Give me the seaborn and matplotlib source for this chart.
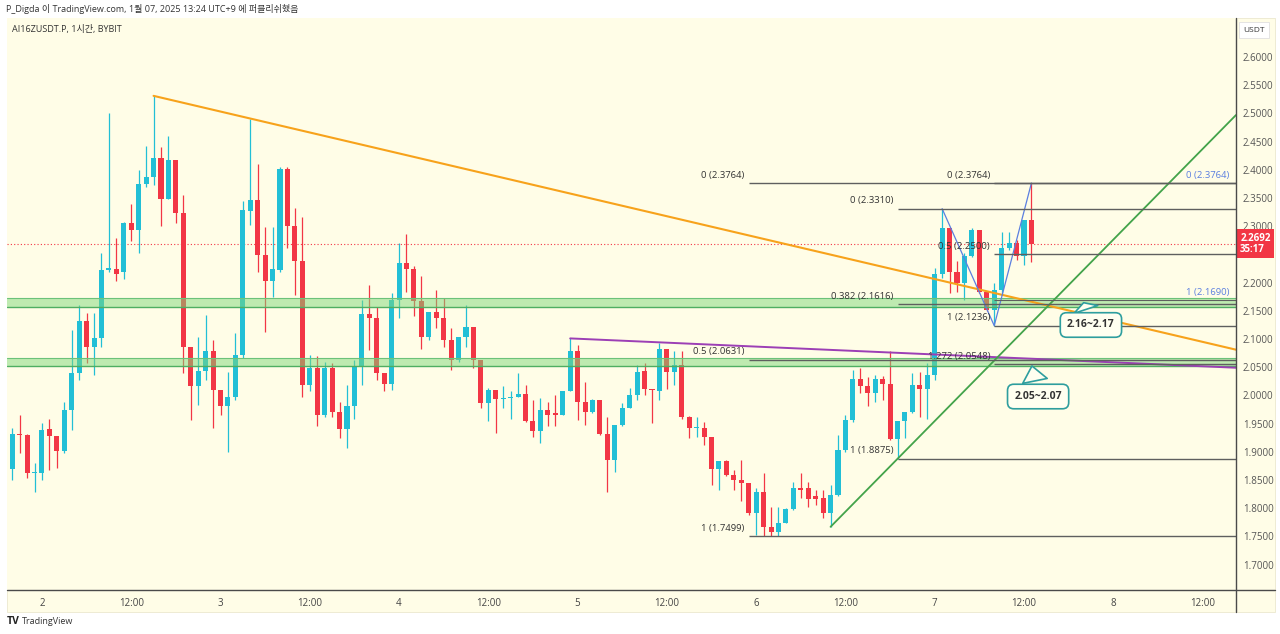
import numpy as np
import pandas as pd
import matplotlib.pyplot as plt
import matplotlib.transforms as mtransforms
from matplotlib.lines import Line2D
from matplotlib.patches import Rectangle
import seaborn as sns

# hourly candles, hour 0 = Jan 2 00:00 (UTC+9)
hours = list(range(-5, 134))
opens = [1.924, 1.870, 1.931, 1.930, 1.862, 1.863, 1.940, 1.928, 1.902, 1.974,
         2.039, 2.131, 2.085, 2.101, 2.222, 2.224, 2.218, 2.306, 2.293, 2.375,
         2.388, 2.420, 2.349, 2.417, 2.323, 2.085, 2.017, 2.043, 2.078, 2.010,
         1.981, 1.998, 2.072, 2.327, 2.346, 2.248, 2.203, 2.222, 2.401, 2.300,
         2.239, 2.018, 2.048, 1.966, 2.048, 1.971, 1.940, 1.981, 2.050, 2.144,
         2.138, 2.040, 2.021, 2.169, 2.234, 2.224, 2.168, 2.104, 2.147, 2.137,
         2.098, 2.062, 2.104, 2.121, 2.063, 1.987, 2.010, 1.993, 1.995, 1.998,
         2.003, 1.955, 1.936, 1.974, 1.968, 1.965, 2.007, 2.078, 1.989, 1.971,
         1.991, 1.932, 1.886, 1.948, 1.978, 2.001, 2.044, 2.011, 2.008, 2.082,
         2.042, 2.054, 1.961, 1.942, 1.943, 1.927, 1.869, 1.883, 1.859, 1.850,
         1.845, 1.791, 1.828, 1.767, 1.758, 1.773, 1.798, 1.835, 1.835, 1.821,
         1.818, 1.791, 1.823, 1.903, 1.956, 2.029, 2.016, 2.005, 2.029, 2.020,
         1.922, 1.955, 1.971, 2.018, 2.011, 2.036, 2.216, 2.296, 2.219, 2.199,
         2.247, 2.293, 2.184, 2.151, 2.187, 2.261, 2.270, 2.247, 2.311]
highs = [1.927, 1.942, 1.965, 1.931, 1.880, 1.951, 1.959, 1.928, 1.989, 2.116,
         2.160, 2.146, 2.146, 2.252, 2.501, 2.279, 2.308, 2.339, 2.400, 2.442,
         2.531, 2.441, 2.459, 2.417, 2.355, 2.086, 2.104, 2.143, 2.098, 2.010,
         2.042, 2.110, 2.344, 2.490, 2.411, 2.299, 2.299, 2.404, 2.404, 2.332,
         2.317, 2.072, 2.069, 2.060, 2.057, 1.989, 2.018, 2.063, 2.169, 2.196,
         2.157, 2.040, 2.181, 2.271, 2.286, 2.229, 2.211, 2.147, 2.187, 2.172,
         2.119, 2.104, 2.160, 2.121, 2.063, 2.013, 2.010, 2.016, 2.007, 2.040,
         2.018, 1.991, 1.995, 1.989, 2.001, 2.007, 2.101, 2.089, 2.024, 1.993,
         1.991, 1.962, 1.948, 1.986, 2.013, 2.054, 2.057, 2.011, 2.092, 2.082,
         2.078, 2.078, 1.964, 1.962, 1.952, 1.927, 1.883, 1.886, 1.868, 1.886,
         1.845, 1.835, 1.863, 1.803, 1.803, 1.800, 1.847, 1.862, 1.847, 1.832,
         1.832, 1.841, 1.930, 1.965, 2.045, 2.048, 2.033, 2.036, 2.034, 2.078,
         1.955, 1.971, 2.039, 2.042, 2.057, 2.225, 2.331, 2.296, 2.239, 2.252,
         2.296, 2.293, 2.184, 2.199, 2.290, 2.290, 2.276, 2.311, 2.3764]
lows = [1.871, 1.850, 1.897, 1.853, 1.829, 1.850, 1.868, 1.871, 1.897, 1.939,
        2.027, 2.057, 2.036, 2.086, 2.219, 2.202, 2.206, 2.273, 2.253, 2.370,
        2.373, 2.301, 2.349, 2.305, 2.039, 1.956, 1.983, 2.027, 1.942, 1.965,
        1.900, 1.992, 2.066, 2.302, 2.219, 2.113, 2.175, 2.218, 2.261, 2.178,
        1.998, 2.008, 1.945, 1.962, 1.962, 1.924, 1.906, 1.959, 2.018, 2.081,
        2.027, 2.007, 2.010, 2.137, 2.184, 2.140, 2.083, 2.098, 2.119, 2.086,
        2.045, 2.060, 2.086, 2.048, 1.977, 1.955, 1.934, 1.977, 1.959, 1.998,
        1.953, 1.927, 1.915, 1.945, 1.945, 1.965, 2.007, 1.956, 1.948, 1.969,
        1.930, 1.829, 1.865, 1.945, 1.977, 1.992, 2.001, 1.951, 1.992, 2.011,
        2.018, 1.958, 1.924, 1.927, 1.912, 1.841, 1.832, 1.857, 1.832, 1.812,
        1.788, 1.753, 1.750, 1.750, 1.751, 1.773, 1.797, 1.818, 1.803, 1.806,
        1.782, 1.767, 1.821, 1.900, 1.953, 2.004, 1.981, 1.989, 1.992, 1.921,
        1.8875, 1.924, 1.968, 1.962, 1.959, 2.027, 2.208, 2.181, 2.184, 2.169,
        2.246, 2.181, 2.149, 2.1236, 2.181, 2.258, 2.240, 2.231, 2.237]
closes = [1.874, 1.931, 1.929, 1.862, 1.864, 1.939, 1.928, 1.902, 1.974, 2.039,
          2.131, 2.085, 2.101, 2.222, 2.225, 2.216, 2.306, 2.293, 2.375, 2.388,
          2.420, 2.349, 2.417, 2.323, 2.085, 2.017, 2.043, 2.078, 2.010, 1.981,
          1.998, 2.072, 2.329, 2.346, 2.248, 2.203, 2.224, 2.401, 2.300, 2.239,
          2.018, 2.048, 1.966, 2.048, 1.971, 1.940, 1.981, 2.050, 2.144, 2.138,
          2.040, 2.021, 2.169, 2.234, 2.224, 2.168, 2.104, 2.147, 2.137, 2.098,
          2.062, 2.104, 2.121, 2.063, 1.987, 2.010, 1.993, 1.995, 1.997, 2.003,
          1.955, 1.936, 1.974, 1.966, 1.966, 2.007, 2.078, 1.989, 1.971, 1.991,
          1.932, 1.886, 1.948, 1.978, 2.001, 2.042, 2.011, 2.010, 2.082, 2.042,
          2.054, 1.961, 1.942, 1.944, 1.927, 1.869, 1.883, 1.859, 1.850, 1.845,
          1.791, 1.828, 1.767, 1.758, 1.773, 1.798, 1.835, 1.832, 1.816, 1.816,
          1.791, 1.823, 1.903, 1.956, 2.029, 2.016, 2.005, 2.029, 2.020, 1.922,
          1.955, 1.971, 2.018, 2.011, 2.036, 2.216, 2.296, 2.219, 2.199, 2.247,
          2.293, 2.184, 2.151, 2.187, 2.261, 2.270, 2.247, 2.311, 2.2692]

# axis ticks (2.2500 sits under the last-price tag, so it is not shown)
x_ticks = [0, 12, 24, 36, 48, 60, 72, 84, 96, 108, 120, 132, 144, 156]
x_labels = ["2", "12:00", "3", "12:00", "4", "12:00", "5", "12:00",
            "6", "12:00", "7", "12:00", "8", "12:00"]
y_ticks = [1.70, 1.75, 1.80, 1.85, 1.90, 1.95, 2.00, 2.05, 2.10, 2.15,
           2.20, 2.30, 2.35, 2.40, 2.45, 2.50, 2.55, 2.60]

# support zones (low, high)
zones = [(2.1573, 2.1722), (2.0521, 2.0658)]

# trend lines (hours, prices)
orange_h, orange_p = [15, 160.5], [2.531, 2.081]
purple_h, purple_p = [71, 160.5], [2.101, 2.049]
green_h, green_p = [106, 160.5], [1.767, 2.497]
zigzag_h, zigzag_p = [121, 128, 133], [2.331, 2.1236, 2.3764]

# fib levels: start hour, values, labels
fib_a_start, fib_a_vals = 95, [2.3764, 2.0631, 1.7499]
fib_a_labels = ["0 (2.3764)", "0.5 (2.0631)", "1 (1.7499)"]
fib_b_start, fib_b_vals = 115, [2.3310, 2.1616, 1.8875]
fib_b_labels = ["0 (2.3310)", "0.382 (2.1616)", "1 (1.8875)"]
fib_c_start, fib_c_vals = 128, [2.3764, 2.2500, 2.1236, 2.0548]
fib_c_labels = ["0 (2.3764)", "0.5 (2.2500)", "1 (2.1236)", "1.272 (2.0548)"]
fib_d_vals = [2.3764, 2.1690]
fib_d_labels = ["0 (2.3764)", "1 (2.1690)"]

# callouts: text, tip (hour, price), box centre (hour, price)
callouts = [("2.16~2.17", (139.9, 2.169), (141.0, 2.1248)),
            ("2.05~2.07", (133.0, 2.057), (133.9, 1.998))]

last_price = 2.2692

W, H = 1280, 634
bg = "#fffde7"
up_c, dn_c = "#22bfd6", "#f23645"

sns.set_theme(style="white")
plt.rcParams['font.family'] = ['Open Sans', 'Noto Sans CJK KR', 'DejaVu Sans']

fig = plt.figure(figsize=(W / 100, H / 100), dpi=100, facecolor="white")
fig.add_artist(Rectangle((7 / W, 1 - 612 / H), 1268 / W, 594 / H, transform=fig.transFigure,
                         facecolor=bg, edgecolor="#ebe8cf", lw=0.6, zorder=0))
ax = fig.add_axes([7 / W, 1 - 590 / H, 1229 / W, 572 / H])
ax.set_facecolor(bg)
for s in ax.spines.values():
    s.set_visible(False)

df = pd.DataFrame({"hour": hours, "open": opens, "high": highs, "low": lows, "close": closes})
df["up"] = df["close"] >= df["open"]
df["body_lo"] = df[["open", "close"]].min(axis=1)
df["body_h"] = (df["close"] - df["open"]).abs().clip(lower=0.0016)
cols = np.where(df["up"], up_c, dn_c)

ax.vlines(df["hour"], df["low"], df["high"], colors=cols, lw=0.9, zorder=2)
ax.bar(df["hour"], df["body_h"], bottom=df["body_lo"], width=0.68, color=cols, lw=0, zorder=3)

# zones on top of candles (semi transparent)
for lo, hi in zones:
    ax.axhspan(lo, hi, color="#7fd87a", alpha=0.5, lw=0, zorder=4)
    ax.axhline(lo, color="#4fae62", lw=1.0, zorder=4)
    ax.axhline(hi, color="#6cc27a", lw=0.8, zorder=4)

# current price line
ax.axhline(last_price, color=dn_c, lw=0.8, ls=(0, (1, 2)), zorder=2)

# trend lines
sns.lineplot(x=orange_h, y=orange_p, ax=ax, color="#f7a21b", lw=1.5, zorder=5)
sns.lineplot(x=purple_h, y=purple_p, ax=ax, color="#9c3fb5", lw=1.4, zorder=5)
sns.lineplot(x=green_h, y=green_p, ax=ax, color="#43a34a", lw=1.3, zorder=5)
sns.lineplot(x=zigzag_h, y=zigzag_p, ax=ax, color="#5b7fe0", lw=0.9, sort=False, zorder=5)

# fib retracements
fib_col = "#5f5f5f"
for start, vals, labels in [(fib_a_start, fib_a_vals, fib_a_labels),
                            (fib_b_start, fib_b_vals, fib_b_labels),
                            (fib_c_start, fib_c_vals, fib_c_labels)]:
    ax.hlines(vals, start, 170, colors=fib_col, lw=1.0, zorder=5)
    for v, lab in zip(vals, labels):
        ax.annotate(lab, xy=(start, v), xytext=(-3, 2.5), textcoords="offset points",
                    ha="right", va="bottom", fontsize=6.8, color="#333333", zorder=7)
ax.hlines(fib_d_vals, fib_c_start, 170, colors=fib_col, lw=0.8, zorder=5)
edge = mtransforms.blended_transform_factory(ax.transAxes, ax.transData)
for v, lab in zip(fib_d_vals, fib_d_labels):
    ax.annotate(lab, xy=(1.0, v), xycoords=edge, xytext=(-5, 2.5), textcoords="offset points",
                ha="right", va="bottom", fontsize=6.8, color="#5b7fe0", zorder=7)

# callouts
for txt, tip, box in callouts:
    ax.annotate(txt, xy=tip, xytext=box, ha="center", va="center", fontsize=7.5,
                fontweight="bold", color="#333333", zorder=8,
                bbox=dict(boxstyle="round,pad=0.65,rounding_size=0.6", fc="#fffff0",
                          ec="#2e9e9e", lw=1.2),
                arrowprops=dict(arrowstyle="wedge,tail_width=2.4,shrink_factor=0.5",
                                fc="#fffff0", ec="#2e9e9e", lw=1.2))

ax.set_xlim(-4.7, 160.5)
ax.set_ylim(1.655, 2.669)
ax.set_xticks(x_ticks)
ax.set_xticklabels(x_labels)
ax.yaxis.tick_right()
ax.set_yticks(y_ticks)
ax.set_yticklabels([f"{v:.4f}" for v in y_ticks])
ax.tick_params(axis="x", length=0, pad=6, labelsize=7, labelcolor="#444444")
ax.tick_params(axis="y", length=0, pad=5, labelsize=7, labelcolor="#555555")
ax.grid(False)

# last price tag on the price scale
ax.annotate(f"{last_price:.4f}\n35:17", xy=(1.0, last_price), xycoords=edge,
            xytext=(3, 0), textcoords="offset points", ha="left", va="center",
            fontsize=7, color="white", fontweight="bold", linespacing=1.0,
            annotation_clip=False,
            bbox=dict(boxstyle="square,pad=0.4", fc=dn_c, ec="none"), zorder=9)

# frame lines
fig.add_artist(Line2D([7 / W, 1275 / W], [1 - 590 / H, 1 - 590 / H], color="#4a4a4a", lw=1))
fig.add_artist(Line2D([1236 / W, 1236 / W], [1 - 18 / H, 1 - 612 / H], color="#4a4a4a", lw=1))

# texts
fig.text(6 / W, 1 - 9 / H, "P_Digda 이 TradingView.com, 1월 07, 2025 13:24 UTC+9 에 퍼블리쉬했음",
         fontsize=6.5, color="#333333", va="center")
ax.text(0.004, 0.988, "AI16ZUSDT.P, 1시간, BYBIT", transform=ax.transAxes,
        fontsize=6.5, color="#333333", va="top")
fig.text(1254 / W, 1 - 30 / H, "USDT", fontsize=6, color="#333333", ha="center", va="center",
         bbox=dict(boxstyle="square,pad=0.5", fc="white", ec="#e0e0e0", lw=0.6))
fig.text(7 / W, 1 - 621 / H, "TV", fontsize=7.5, fontweight="bold", color="#222222", va="center")
fig.text(22 / W, 1 - 621 / H, "TradingView", fontsize=6.5, color="#333333", va="center")

fig.savefig("out.png", dpi=100, facecolor="white")
